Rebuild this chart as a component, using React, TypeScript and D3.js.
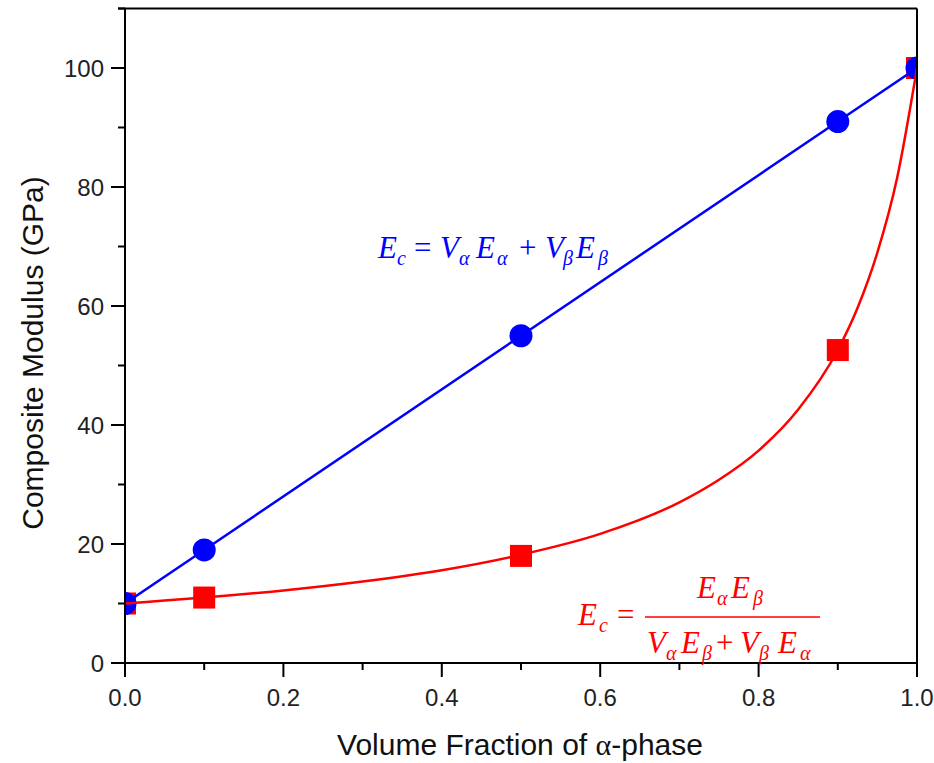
import React from "react";
import * as d3 from "d3";

const fractions = [0, 0.1, 0.5, 0.9, 1.0];
const voigtValues = [10, 19, 55, 91, 100];
const reussValues = [10, 11, 18, 52.6, 100];
const curveX = [0, 0.05, 0.1, 0.2, 0.3, 0.4, 0.5, 0.6, 0.7, 0.75, 0.8, 0.85, 0.9, 0.925, 0.95, 0.975, 1.0];
const curveY = [10, 10.5, 11, 12.2, 13.7, 15.6, 18.2, 21.7, 27, 30.8, 35.7, 42.6, 52.6, 59.7, 69, 81.6, 100];
const xMajor = [0, 0.2, 0.4, 0.6, 0.8, 1.0];
const xMinor = [0.1, 0.3, 0.5, 0.7, 0.9];
const yMajor = [0, 20, 40, 60, 80, 100];
const yMinor = [10, 30, 50, 70, 90, 110];

const W = 934, H = 763;
const L = 125, R = 917, T = 8.5, B = 663;

type Piece = { t: string; x: number; sub?: boolean; up?: boolean };

const blueEq: Piece[] = [
  { t: "E", x: 378 }, { t: "c", x: 397, sub: true }, { t: "=", x: 414, up: true },
  { t: "V", x: 440 }, { t: "α", x: 459, sub: true }, { t: "E", x: 476 }, { t: "α", x: 497, sub: true },
  { t: "+", x: 519, up: true }, { t: "V", x: 545 }, { t: "β", x: 563, sub: true },
  { t: "E", x: 576 }, { t: "β", x: 598, sub: true },
];
const redLeft: Piece[] = [
  { t: "E", x: 578 }, { t: "c", x: 599, sub: true }, { t: "=", x: 617, up: true },
];
const redNum: Piece[] = [
  { t: "E", x: 697 }, { t: "α", x: 717, sub: true }, { t: "E", x: 731 }, { t: "β", x: 753, sub: true },
];
const redDen: Piece[] = [
  { t: "V", x: 647 }, { t: "α", x: 666, sub: true }, { t: "E", x: 681 }, { t: "β", x: 702, sub: true },
  { t: "+", x: 716, up: true }, { t: "V", x: 740 }, { t: "β", x: 759, sub: true },
  { t: "E", x: 778 }, { t: "α", x: 800, sub: true },
];

function Eq({ pieces, y, color }: { pieces: Piece[]; y: number; color: string }) {
  return (
    <text y={y} fontFamily="'Liberation Serif', 'Times New Roman', serif" fill={color} fontSize={31}>
      {pieces.map((p, i) => (
        <tspan
          key={i}
          x={p.x}
          y={p.sub ? y + 7 : y}
          fontSize={p.sub ? 20 : 31}
          fontStyle={p.up ? "normal" : "italic"}
        >
          {p.t}
        </tspan>
      ))}
    </text>
  );
}

export default function App() {
  const x = d3.scaleLinear().domain([0, 1]).range([L, R]);
  const y = d3.scaleLinear().domain([0, 110]).range([B, T]);
  const blueLine = d3.line<number>().x((_, i) => x(fractions[i])).y((d) => y(d))(voigtValues) || "";
  const redLine = d3.line<number>().x((_, i) => x(curveX[i])).y((d) => y(d)).curve(d3.curveMonotoneX)(curveY) || "";
  const sans = "'Liberation Sans', Arial, sans-serif";
  const serif = "'Liberation Serif', 'Times New Roman', serif";
  const sq = 22;
  return (
    <svg width={W} height={H} style={{ position: "absolute", left: 0, top: 0 }}>
      <rect width={W} height={H} fill="#fff" />
      <defs>
        <clipPath id="plot">
          <rect x={L} y={T} width={R - L} height={B - T} />
        </clipPath>
      </defs>
      <g clipPath="url(#plot)">
        {fractions.map((f, i) => (
          <rect key={"s" + i} x={x(f) - sq / 2} y={y(reussValues[i]) - sq / 2} width={sq} height={sq} fill="#ff0000" />
        ))}
        <path d={blueLine} fill="none" stroke="#0000ff" strokeWidth={2.5} />
        {fractions.map((f, i) => (
          <circle key={"c" + i} cx={x(f)} cy={y(voigtValues[i])} r={11.5} fill="#0000ff" />
        ))}
        <path d={redLine} fill="none" stroke="#ff0000" strokeWidth={2.5} />
      </g>
      <g stroke="#000" strokeWidth={2} fill="none">
        <line x1={L - 7} y1={T} x2={R} y2={T} />
        <line x1={R} y1={T} x2={R} y2={B} />
        <line x1={L} y1={T} x2={L} y2={B + 14} />
        <line x1={L - 14} y1={B} x2={R} y2={B} />
        {xMajor.map((v) => (
          <line key={"xM" + v} x1={x(v)} x2={x(v)} y1={B} y2={B + 14} />
        ))}
        {xMinor.map((v) => (
          <line key={"xm" + v} x1={x(v)} x2={x(v)} y1={B} y2={B + 7} />
        ))}
        {yMajor.map((v) => (
          <line key={"yM" + v} x1={L - 14} x2={L} y1={y(v)} y2={y(v)} />
        ))}
        {yMinor.map((v) => (
          <line key={"ym" + v} x1={L - 7} x2={L} y1={y(v)} y2={y(v)} />
        ))}
      </g>
      <g fontFamily={sans} fontSize={24} fill="#222">
        {xMajor.map((v) => (
          <text key={"xl" + v} x={x(v)} y={B + 43} textAnchor="middle">{d3.format(".1f")(v)}</text>
        ))}
        {yMajor.map((v) => (
          <text key={"yl" + v} x={L - 21} y={y(v) + 8.5} textAnchor="end">{v}</text>
        ))}
      </g>
      <text x={520} y={755} textAnchor="middle" fontFamily={sans} fontSize={30} fill="#111">
        Volume Fraction of <tspan fontFamily={serif}>α</tspan>-phase
      </text>
      <text transform={`translate(43,353) rotate(-90)`} textAnchor="middle" fontFamily={sans} fontSize={30} fill="#111">
        Composite Modulus (GPa)
      </text>
      <Eq pieces={blueEq} y={258} color="#0000ff" />
      <Eq pieces={redLeft} y={625} color="#ff0000" />
      <Eq pieces={redNum} y={598} color="#ff0000" />
      <line x1={645} x2={820} y1={617} y2={617} stroke="#ff0000" strokeWidth={1.5} />
      <Eq pieces={redDen} y={653} color="#ff0000" />
    </svg>
  );
}
